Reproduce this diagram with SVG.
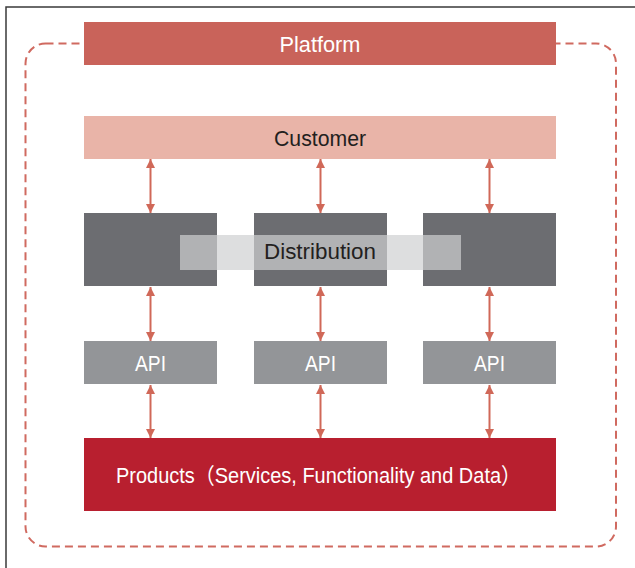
<svg xmlns="http://www.w3.org/2000/svg" width="635" height="568" viewBox="0 0 635 568">
<defs>
<style>
.lbl{font-family:"Liberation Sans","Noto Sans CJK SC",Arial,sans-serif;text-anchor:middle;font-size:22px}
.w{fill:#ffffff}
.d{fill:#231f20}
.conn{stroke:#d06858;stroke-width:2;fill:none;marker-start:url(#ah);marker-end:url(#ah)}
</style>
<marker id="ah" viewBox="0 0 10 10" refX="10" refY="5" markerWidth="9" markerHeight="11" markerUnits="userSpaceOnUse" orient="auto-start-reverse">
<path d="M0,0 L10,5 L0,10 Z" fill="#d06858"/>
</marker>
</defs>
<rect width="635" height="568" fill="#ffffff"/>
<path d="M6,568 V7 H635" fill="none" stroke="#3a3a3a" stroke-width="1.5"/>
<rect id="platform-boundary" x="25.5" y="43.5" width="590.5" height="503" rx="20" ry="20" fill="none" stroke="#d06a60" stroke-width="2" stroke-dasharray="8 5"/>
<g id="platform">
<rect x="84" y="22" width="472" height="43" fill="#c9635a"/>
<text class="lbl w" x="320" y="52" textLength="81" lengthAdjust="spacingAndGlyphs">Platform</text>
</g>
<g id="customer">
<rect x="84" y="116" width="472" height="43" fill="#e9b4a8"/>
<text class="lbl d" x="320" y="146" textLength="92" lengthAdjust="spacingAndGlyphs">Customer</text>
</g>
<g id="dist1"><rect x="84" y="213" width="133" height="73" fill="#6c6d71"/></g>
<g id="dist2"><rect x="254" y="213" width="133" height="73" fill="#6c6d71"/></g>
<g id="dist3"><rect x="423" y="213" width="133" height="73" fill="#6c6d71"/></g>
<g id="distribution">
<rect x="180" y="235" width="281" height="35" fill="#cfd0d2" fill-opacity="0.7"/>
<text class="lbl d" x="320" y="259" textLength="112" lengthAdjust="spacingAndGlyphs">Distribution</text>
</g>
<g id="api1">
<rect x="84" y="341" width="133" height="43" fill="#939598"/>
<text class="lbl w" x="150.5" y="371" textLength="31" lengthAdjust="spacingAndGlyphs">API</text>
</g>
<g id="api2">
<rect x="254" y="341" width="133" height="43" fill="#939598"/>
<text class="lbl w" x="320.5" y="371" textLength="31" lengthAdjust="spacingAndGlyphs">API</text>
</g>
<g id="api3">
<rect x="423" y="341" width="133" height="43" fill="#939598"/>
<text class="lbl w" x="489.5" y="371" textLength="31" lengthAdjust="spacingAndGlyphs">API</text>
</g>
<g id="products">
<rect x="84" y="438" width="472" height="73" fill="#b81f2f"/>
<text class="lbl w" x="318.5" y="483" textLength="405" lengthAdjust="spacingAndGlyphs">Products（Services, Functionality and Data）</text>
</g>
<g id="connectors">
<line class="conn" x1="150.5" y1="159" x2="150.5" y2="213"/>
<line class="conn" x1="320.5" y1="159" x2="320.5" y2="213"/>
<line class="conn" x1="489.5" y1="159" x2="489.5" y2="213"/>
<line class="conn" x1="150.5" y1="287" x2="150.5" y2="341"/>
<line class="conn" x1="320.5" y1="287" x2="320.5" y2="341"/>
<line class="conn" x1="489.5" y1="287" x2="489.5" y2="341"/>
<line class="conn" x1="150.5" y1="385" x2="150.5" y2="438"/>
<line class="conn" x1="320.5" y1="385" x2="320.5" y2="438"/>
<line class="conn" x1="489.5" y1="385" x2="489.5" y2="438"/>
</g>
</svg>
